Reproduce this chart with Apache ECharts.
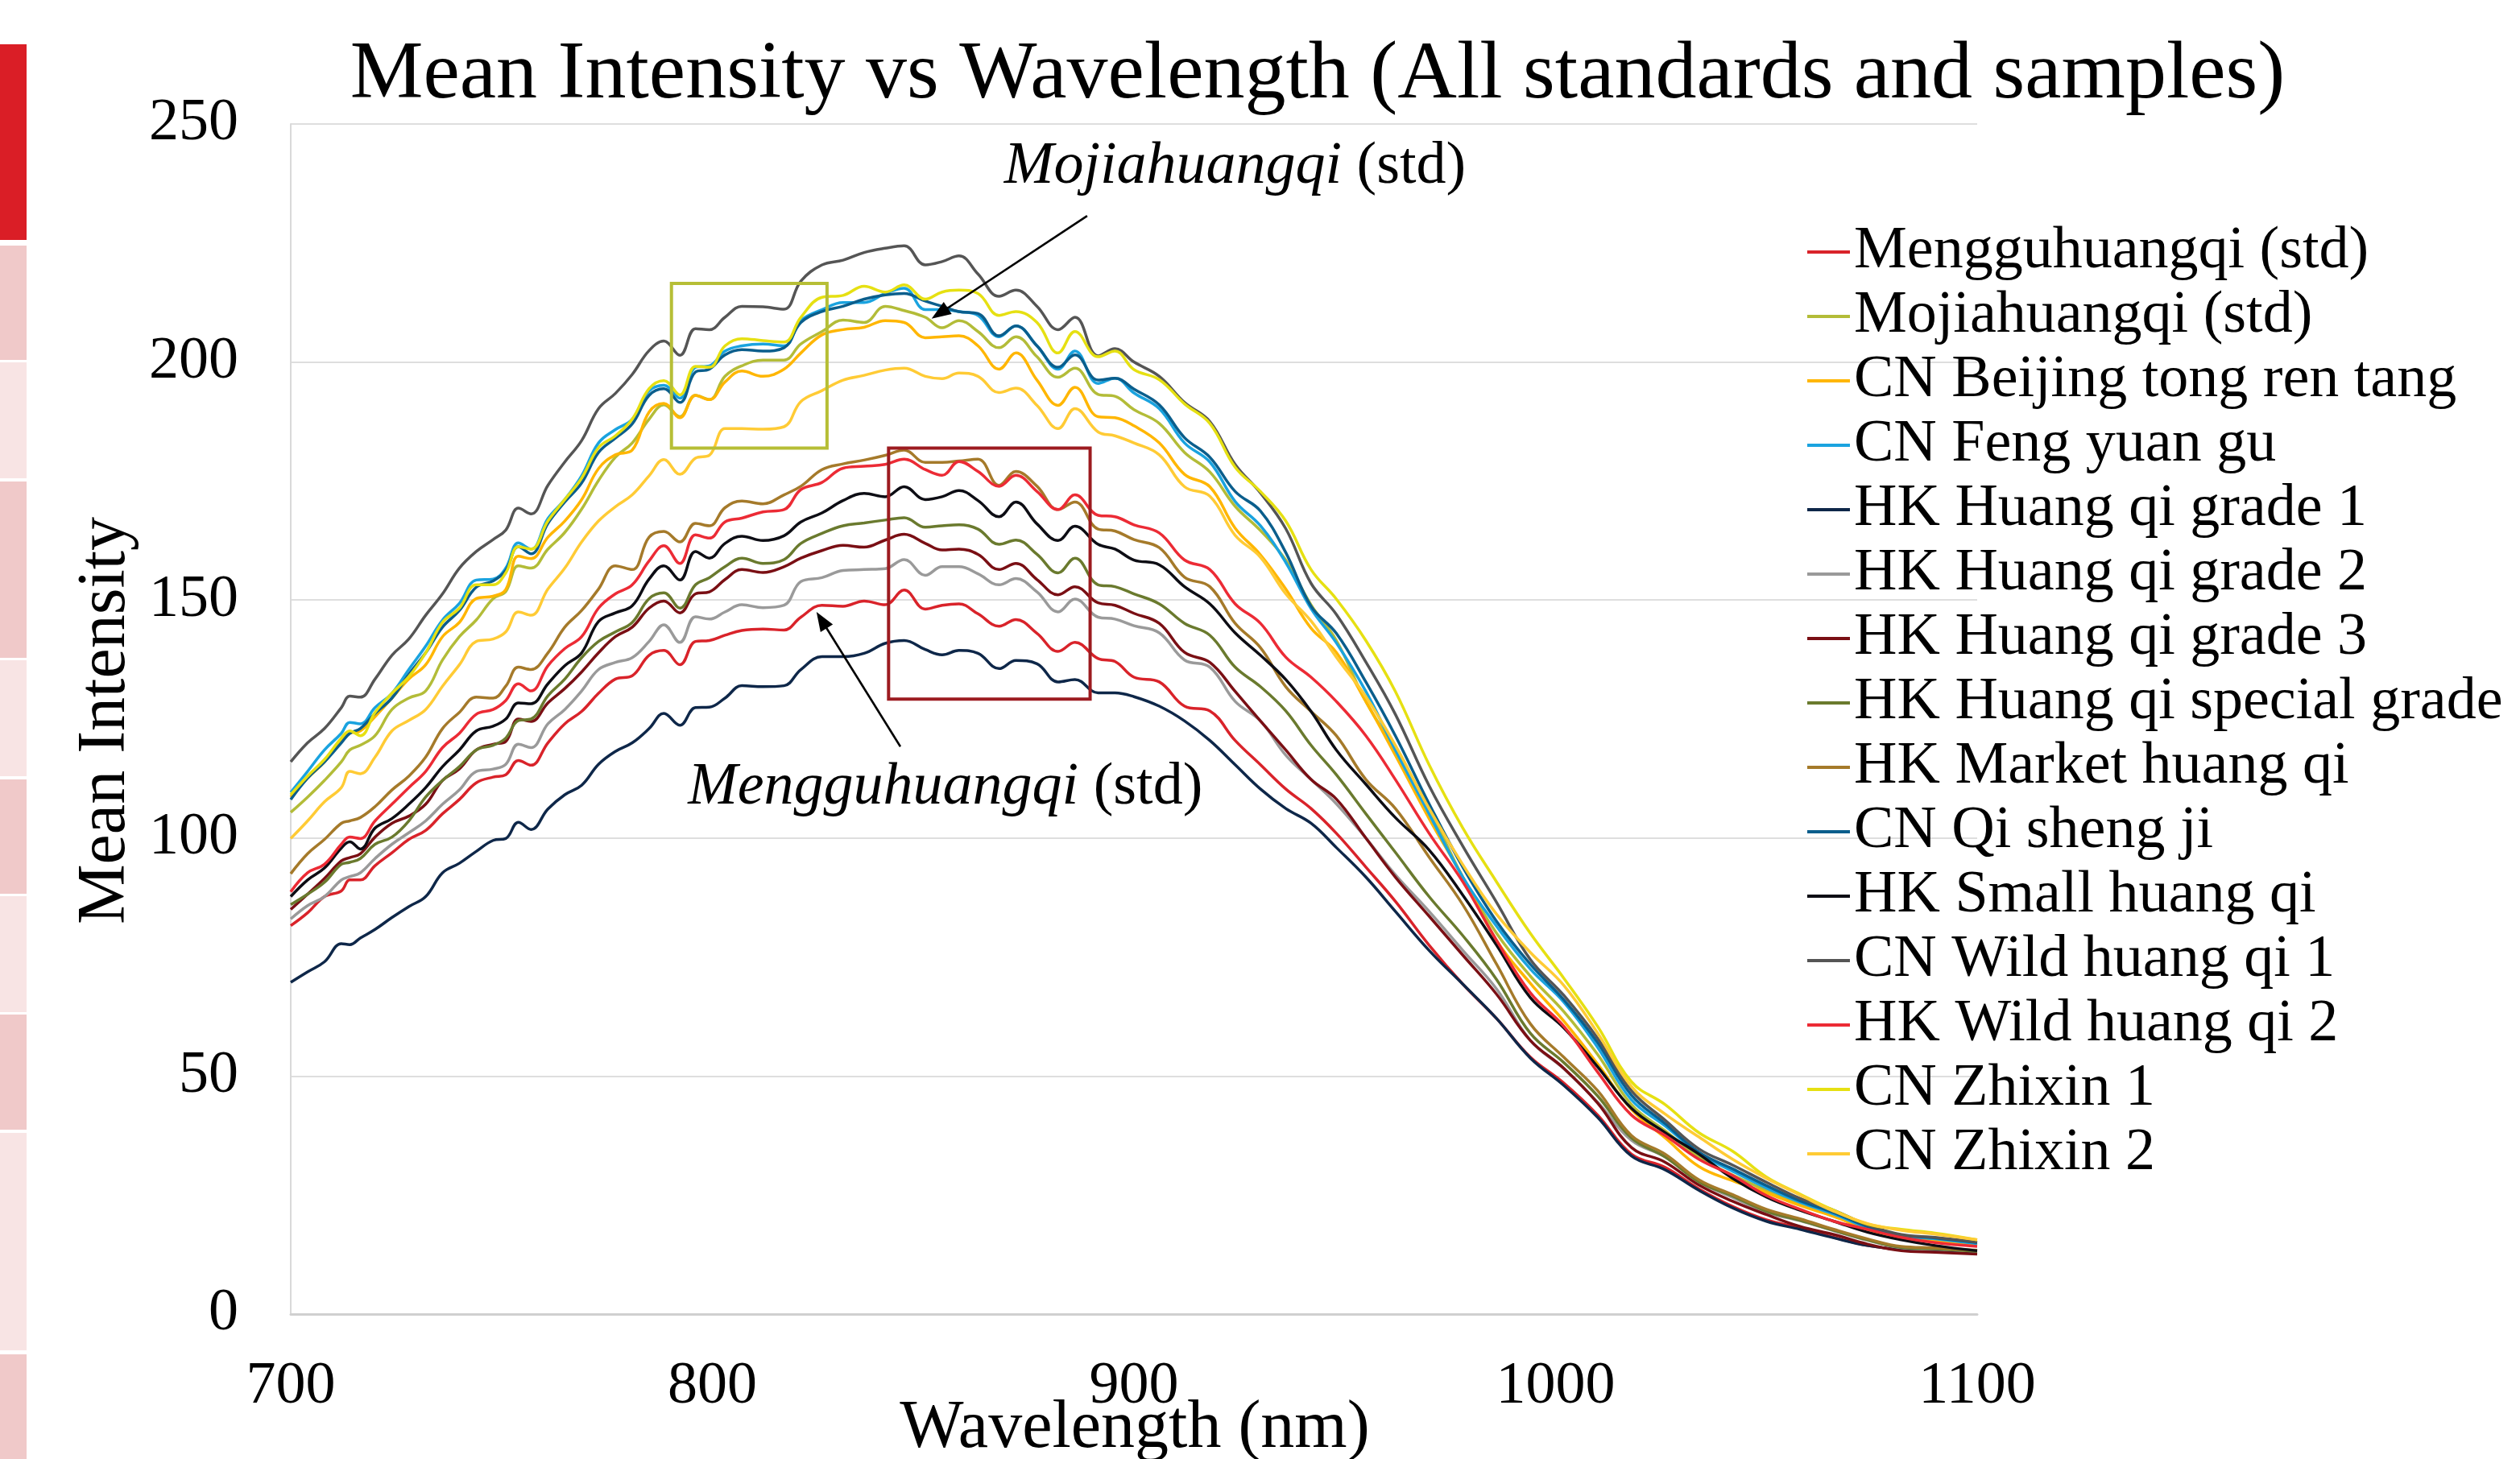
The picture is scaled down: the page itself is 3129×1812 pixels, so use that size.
<!DOCTYPE html>
<html><head><meta charset="utf-8">
<script src="https://cdn.jsdelivr.net/npm/echarts/dist/echarts.min.js"></script>
<style>html,body{margin:0;padding:0;background:#fff}#c{width:3129px;height:1812px}</style>
</head><body><div id="c"></div>
<script>
const FONT = "'Liberation Serif','Times New Roman',serif";
const titleText = 'Mean Intensity vs Wavelength (All standards and samples)';
const xTitle = 'Wavelength (nm)';
const yTitle = 'Mean Intensity';
const xTicks = [700, 800, 900, 1000, 1100];
const yTicks = [0, 50, 100, 150, 200, 250];

const W = [700,704,708,712,714,716.5,720,724,728,732,736,740,744,748,751,754,757,761,765,769,773,777,781,785,788.5,792.3,796,
 799.3,803,807,812,817,821,826,831,836,841,845.5,850.5,854.5,858.5,863,868,872,877,882,886,891.5,895.5,
 900,906,912,918,924,930,936,942,948,955,962,970,978,986,994,
 1002,1010,1018,1026,1034,1042,1050,1058,1066,1074,1082,1090,1100];

const names = ['Mengguhuangqi (std)','Mojiahuangqi (std)','CN Beijing tong ren tang','CN Feng yuan gu','HK Huang qi grade 1','HK Huang qi grade 2','HK Huang qi grade 3','HK Huang qi special grade','HK Market huang qi','CN Qi sheng ji','HK Small huang qi','CN Wild huang qi 1','HK Wild huang qi 2','CN Zhixin 1','CN Zhixin 2'];
const colors = ['#D9232A','#B3BC38','#FFB600','#1AA3DF','#0E2749','#9A9A9A','#7A0F14','#6A7A2E','#A57A2A','#0B5E8C','#0D0D14','#555555','#EC2B35','#E6E012','#FFCB35'];

const menggu = [81.6,84.3,87.7,88.9,91.2,91.2,94.2,96.9,99.7,101.6,105.1,108.1,111.6,112.8,113.3,116.3,115.3,120.0,124.0,126.6,130.4,133.4,134.1,138.4,139.4,136.4,141.3,
 141.5,142.6,143.6,143.9,143.7,146.4,148.9,148.7,149.8,149.0,152.1,148.1,148.9,149.2,147.1,144.5,145.9,143.0,139.2,141.1,137.7,137.1,
 133.8,132.8,127.7,126.7,120.5,115.4,110.3,106.2,101.0,93.9,86.7,77.5,69.3,62.1,54.0,
 48.5,41.8,33.6,30.8,26.3,22.6,19.8,18.1,16.1,14.4,13.6,13.3,13.0];
const mojia = [105.4,108.6,112.1,116.0,118.5,119.5,121.5,127.0,129.4,130.9,137.4,142.3,145.8,150.3,151.8,157.2,156.7,160.7,164.2,169.1,175.1,180.0,183.0,188.0,191.0,188.5,193.0,
 192.1,197.0,199.2,200.4,200.4,203.8,206.4,208.8,208.3,211.7,210.8,209.4,207.2,208.7,206.4,203.0,205.3,201.1,196.8,198.7,193.2,192.8,
 190.0,187.1,181.0,176.9,169.7,164.6,158.4,149.0,141.5,128.7,118.5,106.2,91.8,80.0,71.0,
 63.5,54.5,44.0,38.5,33.0,29.2,26.0,23.0,20.6,17.8,16.1,15.4,14.5];
const beijing = [108.6,112.6,116.0,120.5,122.0,122.5,125.5,129.4,133.4,136.4,142.3,145.3,150.3,150.8,152.2,159.2,158.7,163.2,166.6,171.1,177.6,180.5,181.5,189.5,191.3,188.3,193.0,
 192.1,195.8,198.1,197.0,198.5,201.9,205.7,206.8,207.3,208.7,208.3,205.1,205.3,205.5,203.4,198.5,201.9,196.2,190.9,194.7,188.5,188.3,
 186.6,183.0,176.4,173.8,165.1,159.5,152.3,144.1,139.0,128.7,117.4,104.1,91.8,78.5,69.5,
 61.5,52.5,43.0,37.0,31.0,28.0,25.5,22.8,20.5,17.8,16.0,15.3,14.5];
const feng = [109.6,114.0,118.5,122.0,124.3,124.0,127.4,130.4,135.4,140.3,145.8,149.3,154.2,154.4,156.7,162.0,160.7,167.1,171.1,176.1,183.0,185.8,188.0,193.9,195.1,192.4,198.9,
 199.2,202.3,203.4,203.8,203.4,208.7,211.0,212.5,212.5,214.4,215.5,211.0,211.0,210.6,209.8,205.3,207.6,203.4,198.5,202.3,195.5,196.6,
 193.5,190.2,183.0,179.0,170.7,165.6,157.9,148.2,141.0,130.8,118.5,105.1,91.8,81.5,72.5,
 65.5,56.0,45.0,39.5,33.8,30.0,26.5,23.5,21.0,18.2,16.5,15.8,14.8];
const grade1 = [69.7,71.9,74.0,77.8,77.6,79.0,80.8,83.3,85.6,87.7,92.7,94.7,97.2,99.5,99.9,103.3,101.8,106.1,109.1,111.1,115.5,118.2,120.0,123.0,126.2,123.7,127.4,
 127.5,129.4,132.0,131.8,132.0,135.4,138.1,138.1,138.8,140.9,141.5,139.6,138.5,139.4,138.8,135.6,137.3,136.6,132.8,133.3,130.5,130.5,
 129.7,127.7,124.6,120.5,115.4,110.3,106.2,103.1,98.0,91.8,84.6,76.4,69.3,62.1,53.8,
 48.0,41.3,33.2,30.3,26.0,22.3,19.5,17.8,16.0,14.4,13.5,13.2,12.8];
const grade2 = [83.0,85.8,87.7,91.2,91.9,92.7,95.7,98.7,101.1,103.6,107.1,110.1,114.0,114.5,115.5,119.7,119.0,124.0,127.0,130.9,135.4,136.9,137.9,141.3,144.8,141.1,146.5,
 146.0,147.5,149.0,148.4,148.9,153.9,154.7,156.2,156.4,156.6,158.5,155.2,157.0,157.0,155.5,153.2,154.5,151.7,147.5,150.2,146.4,146.0,
 144.6,143.1,137.4,135.9,128.7,124.6,117.4,112.3,107.2,100.0,92.3,84.6,76.4,68.3,57.5,
 51.5,44.5,36.5,33.0,27.8,24.5,21.4,19.6,17.5,15.5,13.9,13.6,13.2];
const grade3 = [85.0,88.2,91.5,95.2,95.9,96.7,100.2,103.1,104.6,107.1,112.1,114.5,118.5,119.7,120.3,125.0,124.5,128.4,131.4,134.9,138.9,142.3,144.3,148.3,149.8,147.3,151.3,
 151.7,154.3,156.4,155.8,157.0,158.8,160.4,161.5,161.1,162.6,163.8,161.9,160.5,160.7,159.6,156.4,157.7,154.3,151.1,152.8,149.4,148.9,
 147.2,145.1,139.0,136.9,130.8,124.6,118.5,112.3,108.2,100.0,91.8,83.6,75.4,67.2,57.5,
 51.6,44.3,35.0,31.9,27.1,23.7,20.9,18.4,16.7,14.7,13.3,13.0,12.6];
const special = [86.0,88.2,90.7,94.5,94.9,95.7,98.7,100.2,103.6,108.6,112.1,115.0,118.5,119.5,121.0,124.7,125.0,129.9,133.4,137.9,141.3,143.3,145.3,150.3,151.5,148.3,153.2,
 154.7,157.0,158.8,157.7,158.5,161.9,164.0,165.6,166.2,166.8,167.3,165.3,165.6,165.8,164.9,161.7,162.6,159.6,155.7,158.8,153.2,152.8,
 151.3,149.2,145.1,142.6,135.9,131.8,126.7,119.5,113.3,105.1,97.0,87.7,79.5,70.3,59.0,
 52.8,45.8,37.0,33.0,27.8,24.8,21.6,19.7,17.6,15.6,14.0,13.7,13.2];
const market = [92.5,96.7,99.7,103.1,103.6,104.3,106.6,110.1,113.0,117.0,123.0,126.4,129.6,129.4,131.9,135.9,135.4,138.9,144.3,147.8,152.3,157.2,156.4,163.2,164.4,162.2,166.1,
 165.6,169.4,170.8,170.2,172.1,173.9,177.4,178.6,179.4,180.4,181.5,178.9,178.9,179.2,179.6,174.1,177.0,173.9,169.0,170.6,164.9,164.5,
 162.7,161.0,154.8,152.8,145.1,140.0,131.8,126.6,121.5,112.3,106.2,96.0,86.0,73.5,61.0,
 53.9,46.9,37.5,33.6,28.2,25.1,22.0,20.0,17.8,15.8,14.2,13.9,13.4];
const qisheng = [108.1,112.6,116.0,120.0,122.0,123.0,126.2,129.4,134.4,138.9,144.3,147.8,152.7,154.0,156.2,161.2,159.7,166.1,170.6,174.6,181.0,184.0,187.0,193.0,194.4,191.5,197.9,
 198.5,201.5,202.6,202.3,203.0,208.3,210.6,211.7,213.2,214.1,214.4,212.8,211.7,210.6,210.2,205.5,207.6,203.4,198.9,201.5,196.2,196.6,
 194.3,191.0,184.1,180.0,172.8,168.7,160.0,148.7,143.0,132.8,121.5,107.2,93.9,82.5,73.5,
 66.0,57.0,46.0,40.0,34.0,30.5,27.0,23.8,21.3,18.4,16.6,16.0,15.0];
const small = [87.7,91.2,93.7,97.9,99.2,97.7,102.1,104.1,107.1,110.6,115.0,118.5,122.5,123.5,125.0,128.4,128.2,132.4,136.2,138.9,145.5,147.3,148.8,154.4,157.2,154.2,160.2,
 158.8,161.9,163.4,162.5,163.5,166.4,168.3,170.9,172.4,171.7,173.8,171.1,171.7,173.0,170.9,167.5,170.6,166.0,162.5,165.5,161.7,160.7,
 158.4,157.4,152.8,149.2,143.1,138.4,133.3,126.6,118.5,111.3,104.3,97.5,88.0,77.5,66.5,
 60.1,51.9,43.2,38.1,33.6,28.5,24.6,21.8,19.5,17.2,15.6,14.4,13.3];
const wild1 = [116.0,120.0,123.0,127.4,129.8,129.6,133.4,138.4,141.8,146.8,151.3,156.7,160.2,162.7,164.7,169.3,168.1,174.1,179.0,183.5,190.2,193.4,197.4,202.4,204.4,201.4,207.0,
 206.8,209.4,211.7,211.6,211.1,217.0,220.4,221.4,223.0,223.9,224.4,220.4,221.1,222.3,218.5,213.8,215.1,211.7,206.8,209.4,201.3,202.8,
 200.0,197.0,191.5,187.5,178.5,172.5,165.0,153.5,147.0,137.0,126.0,111.0,98.3,86.5,74.5,
 66.9,57.9,46.9,40.7,34.7,31.3,27.7,24.3,21.8,18.7,16.7,16.1,15.1];
const wild2 = [88.7,92.7,94.5,98.7,100.2,99.9,103.6,107.1,110.6,114.0,119.0,122.0,126.0,127.0,128.9,132.4,130.9,136.2,139.8,142.3,148.3,151.3,153.2,158.2,161.4,157.7,163.7,
 163.0,166.4,167.2,168.5,169.0,173.2,174.7,177.7,178.1,178.5,179.6,177.4,176.2,179.1,177.0,173.9,176.2,172.8,169.0,172.1,167.8,167.5,
 165.8,164.1,158.4,156.4,149.2,145.1,138.0,133.8,128.7,121.5,112.3,101.0,90.8,78.5,67.5,
 60.4,50.8,41.8,37.5,32.5,29.1,24.9,22.0,19.5,17.8,16.1,15.0,14.2];
const zhixin1 = [109.1,113.0,116.5,121.0,122.5,121.5,126.4,130.4,133.9,138.9,145.3,148.3,153.2,153.2,155.7,161.2,160.7,166.6,171.1,175.6,182.0,184.5,188.0,194.4,196.1,193.1,199.1,
 198.9,203.4,204.9,204.5,204.2,209.4,213.6,214.0,215.9,214.7,216.2,213.2,214.7,215.1,214.4,209.8,210.6,208.3,201.9,206.4,201.1,202.3,
 198.4,196.3,191.2,187.1,177.9,172.8,166.6,156.4,150.2,141.5,130.8,115.4,102.1,90.8,80.0,
 70.5,60.4,48.8,44.0,38.1,34.2,28.8,25.2,21.8,18.9,17.8,17.0,15.6];
const zhixin2 = [99.9,103.6,107.6,110.6,114.0,113.5,117.0,122.5,124.7,127.0,131.9,136.4,141.3,141.8,143.3,147.5,146.8,152.3,156.7,162.2,166.6,169.6,172.1,176.1,179.5,176.4,179.8,
 180.4,186.0,186.0,185.9,186.4,191.7,194.0,196.2,197.2,198.3,198.7,197.0,196.5,197.7,197.0,193.6,194.5,190.9,186.0,190.2,185.3,184.5,
 183.0,180.5,173.8,171.8,163.6,159.0,151.3,145.6,138.0,129.7,119.5,106.2,94.4,84.0,76.0,
 69.0,59.0,47.8,42.0,37.2,32.5,28.5,25.0,21.6,19.0,17.6,16.8,15.6];

const values = [menggu, mojia, beijing, feng, grade1, grade2, grade3, special, market, qisheng, small, wild1, wild2, zhixin1, zhixin2];

// annotation anchors (data coordinates)
const boxMojia = [[790.3, 216.5], [827.2, 181.9]];
const boxMenggu = [[841.8, 181.9], [889.6, 129.2]];
const arrowMojia = [[888.9, 230.7], [852.0, 209.1]];
const arrowMenggu = [[844.6, 119.2], [824.7, 147.5]];
const labelMojia = [869.2, 241.0];
const labelMenggu = [794.2, 110.6];

const chart = echarts.init(document.getElementById('c'), null, {renderer: 'canvas'});

const series = names.map((n, k) => ({
  name: n, type: 'line', symbol: 'none', smooth: 0.4, z: 2,
  data: W.map((w, i) => [w, values[k][i]]),
  lineStyle: {width: 3.5, color: colors[k]},
  itemStyle: {color: colors[k]},
  emphasis: {disabled: true}
}));

const strip = [
  ['#DA1E26', 55, 298], ['#F0C9C9', 305, 447], ['#F8E4E4', 450, 594], ['#F0C9C9', 598, 817],
  ['#F8E4E4', 820, 964], ['#F0C9C9', 968, 1110], ['#F8E4E4', 1113, 1257], ['#F0C9C9', 1260, 1403],
  ['#F8E4E4', 1407, 1677], ['#F0C9C9', 1682, 1812]
].map(s => ({type: 'rect', shape: {x: 0, y: s[1], width: 33, height: s[2] - s[1]}, style: {fill: s[0]}, silent: true}));

chart.setOption({
  animation: false,
  backgroundColor: '#ffffff',
  title: {text: titleText, left: 1631, top: 38, textAlign: 'center',
    textStyle: {fontFamily: FONT, fontSize: 102, fontWeight: 'normal', color: '#000'}},
  grid: {left: 361, right: 674, top: 154, bottom: 180},
  legend: {
    orient: 'vertical', left: 2244, top: 273, padding: 0, itemGap: 0,
    itemWidth: 53, itemHeight: 4, icon: 'rect', data: names,
    textStyle: {fontFamily: FONT, fontSize: 74, color: '#000', lineHeight: 80}
  },
  xAxis: {type: 'value', min: xTicks[0], max: xTicks[xTicks.length - 1], interval: 100,
    axisLine: {show: true, lineStyle: {color: '#D0D0D0', width: 3}},
    axisTick: {show: false}, splitLine: {show: false},
    axisLabel: {fontFamily: FONT, fontSize: 74, color: '#000', margin: 54, formatter: v => String(v)}},
  yAxis: {type: 'value', min: yTicks[0], max: yTicks[yTicks.length - 1], interval: 50,
    axisLine: {show: true, lineStyle: {color: '#D9D9D9', width: 2}},
    axisTick: {show: false},
    splitLine: {show: true, lineStyle: {color: '#DEDEDE', width: 2}},
    axisLabel: {fontFamily: FONT, fontSize: 74, color: '#000', margin: 65, formatter: v => String(v)}},
  series: series,
  graphic: strip
});

function px(p) { return chart.convertToPixel({gridIndex: 0}, p); }
function arrow(a, color) {
  const t = px(a[0]), h = px(a[1]);
  const dx = h[0] - t[0], dy = h[1] - t[1], L = Math.hypot(dx, dy);
  const ux = dx / L, uy = dy / L, nx = -uy, ny = ux, al = 24, aw = 9;
  const b = [h[0] - ux * al, h[1] - uy * al];
  return [
    {type: 'line', z: 50, shape: {x1: t[0], y1: t[1], x2: b[0] + ux * 4, y2: b[1] + uy * 4}, style: {stroke: color, lineWidth: 2.6}},
    {type: 'polygon', z: 50, shape: {points: [h, [b[0] + nx * aw, b[1] + ny * aw], [b[0] - nx * aw, b[1] - ny * aw]]}, style: {fill: color}}
  ];
}
function box(b, color) {
  const p1 = px(b[0]), p2 = px(b[1]);
  return {type: 'rect', z: 50, shape: {x: p1[0], y: p1[1], width: p2[0] - p1[0], height: p2[1] - p1[1]},
    style: {fill: 'none', stroke: color, lineWidth: 4}};
}
function label(pos, ital, rest) {
  const p = px(pos);
  return {type: 'text', z: 50, x: p[0], y: p[1], style: {
    text: '{i|' + ital + '}{n|' + rest + '}', align: 'left', verticalAlign: 'middle',
    rich: {i: {fontFamily: FONT, fontSize: 74, fontStyle: 'italic', fill: '#000'},
           n: {fontFamily: FONT, fontSize: 74, fill: '#000'}}}};
}

const extra = [].concat(
  [box(boxMojia, '#B6BE36'), box(boxMenggu, '#9C1B20')],
  arrow(arrowMojia, '#000'), arrow(arrowMenggu, '#000'),
  [label(labelMojia, 'Mojiahuangqi', ' (std)'), label(labelMenggu, 'Mengguhuangqi', ' (std)')],
  [{type: 'text', z: 50, x: 132, y: 895, rotation: Math.PI / 2,
     style: {text: yTitle, fontFamily: FONT, fontSize: 84, fill: '#000', align: 'center', verticalAlign: 'middle'}},
   {type: 'text', z: 50, x: 1409, y: 1775,
     style: {text: xTitle, fontFamily: FONT, fontSize: 84, fill: '#000', align: 'center', verticalAlign: 'middle'}}]
);
chart.setOption({graphic: strip.concat(extra)});
</script></body></html>
